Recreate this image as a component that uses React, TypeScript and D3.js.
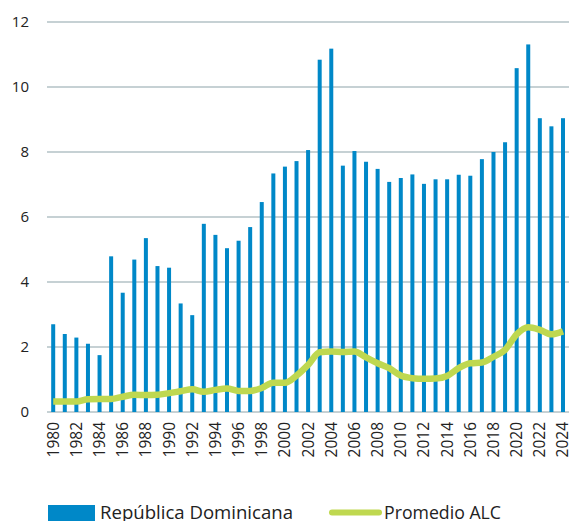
import React from "react";
import * as d3 from "d3";

const years: number[] = [
  1980, 1981, 1982, 1983, 1984, 1985, 1986, 1987, 1988, 1989, 1990, 1991, 1992, 1993, 1994,
  1995, 1996, 1997, 1998, 1999, 2000, 2001, 2002, 2003, 2004, 2005, 2006, 2007, 2008, 2009,
  2010, 2011, 2012, 2013, 2014, 2015, 2016, 2017, 2018, 2019, 2020, 2021, 2022, 2023, 2024,
];
const dominicana: number[] = [
  2.7, 2.4, 2.29, 2.1, 1.75, 4.79, 3.67, 4.69, 5.35, 4.49, 4.44, 3.34, 2.98, 5.79, 5.45,
  5.04, 5.27, 5.69, 6.46, 7.34, 7.55, 7.72, 8.06, 10.84, 11.18, 7.58, 8.03, 7.7, 7.48, 7.08,
  7.2, 7.31, 7.02, 7.16, 7.16, 7.3, 7.27, 7.78, 8.0, 8.3, 10.58, 11.31, 9.04, 8.79, 9.04,
];
const promedioALC: number[] = [
  0.32, 0.32, 0.32, 0.39, 0.4, 0.4, 0.47, 0.53, 0.52, 0.53, 0.58, 0.64, 0.7, 0.62, 0.68,
  0.72, 0.65, 0.65, 0.74, 0.9, 0.9, 1.12, 1.45, 1.84, 1.86, 1.85, 1.86, 1.68, 1.5, 1.35,
  1.12, 1.04, 1.02, 1.03, 1.11, 1.35, 1.5, 1.52, 1.7, 1.91, 2.39, 2.61, 2.53, 2.39, 2.48,
];
const yTicks: number[] = [0, 2, 4, 6, 8, 10, 12];
const seriesNames: string[] = ["República Dominicana", "Promedio ALC"];

const W = 569;
const H = 521;
const BLUE = "#0088c8";
const GREEN = "#bfd850";
const FONT = "'Open Sans', 'DejaVu Sans', sans-serif";

export default function App() {
  const x = d3.scaleLinear().domain([1980, 2024]).range([53.2, 563]);
  const y = d3.scaleLinear().domain([0, 12]).range([412, 22]);
  const line = d3
    .line<number>()
    .x((_, i) => x(years[i]))
    .y((d) => y(d))
    .curve(d3.curveMonotoneX);
  const barW = 4;
  const labelYears = years.filter((yr) => yr % 2 === 0);

  return (
    <svg
      width={W}
      height={H}
      style={{ position: "absolute", left: 0, top: 0, background: "#fff" }}
      fontFamily={FONT}
    >
      {yTicks.map((t) => (
        <g key={t}>
          <line x1={47} x2={W} y1={y(t)} y2={y(t)} stroke="#b3c2c6" strokeWidth={1.5} />
          <text x={29} y={y(t)} dy="0.35em" textAnchor="end" fontSize={15} fill="#222">
            {t}
          </text>
        </g>
      ))}
      {years.map((yr, i) => (
        <rect
          key={yr}
          x={x(yr) - barW / 2}
          y={y(dominicana[i])}
          width={barW}
          height={y(0) - y(dominicana[i])}
          fill={BLUE}
        />
      ))}
      <path
        d={line(promedioALC) || ""}
        fill="none"
        stroke={GREEN}
        strokeWidth={6.5}
        strokeLinejoin="round"
        strokeLinecap="butt"
      />
      {labelYears.map((yr) => (
        <text
          key={yr}
          transform={`translate(${x(yr)},422) rotate(-90)`}
          textAnchor="end"
          dy="0.35em"
          fontSize={15.5}
          fill="#222"
        >
          {yr}
        </text>
      ))}
      <rect x={48} y={505} width={47} height={16} fill={BLUE} />
      <text x={100} y={518.5} fontSize={18} fill="#222" textLength={193} lengthAdjust="spacingAndGlyphs">
        {seriesNames[0]}
      </text>
      <line x1={332} x2={379} y1={512.5} y2={512.5} stroke={GREEN} strokeWidth={6} strokeLinecap="round" />
      <text x={384} y={518.5} fontSize={18} fill="#222" textLength={117} lengthAdjust="spacingAndGlyphs">
        {seriesNames[1]}
      </text>
    </svg>
  );
}
